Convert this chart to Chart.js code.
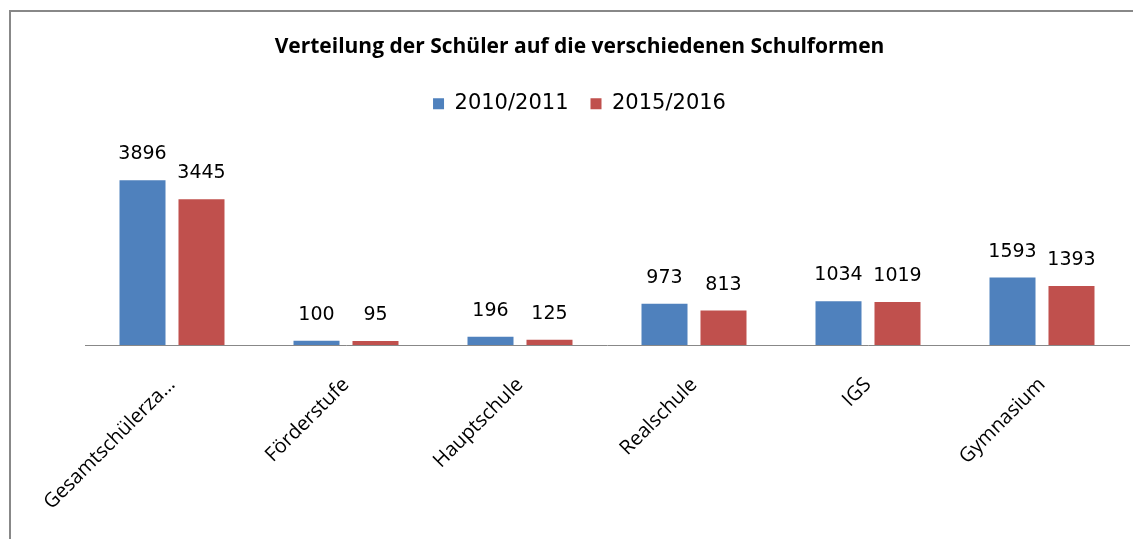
<!DOCTYPE html>
<html>
<head>
<meta charset="utf-8">
<script src="https://cdn.jsdelivr.net/npm/chart.js@4.4.1/dist/chart.umd.min.js"></script>
<style>
  html, body { margin: 0; padding: 0; background: #fff; }
  #wrap { position: relative; width: 1133px; height: 539px; }
  #frame { position: absolute; left: 9px; top: 10px; right: -10px; bottom: -10px;
           border-left: 2px solid #888; border-top: 2px solid #888; pointer-events: none; }
  canvas { position: absolute; left: 0; top: 0; }
</style>
</head>
<body>
<div id="wrap">
  <canvas id="c" width="1133" height="539"></canvas>
  <div id="frame"></div>
</div>
<script>
const categories = ["Gesamtschülerza…", "Förderstufe", "Hauptschule", "Realschule", "IGS", "Gymnasium"];
const seriesNames = ["2010/2011", "2015/2016"];
const values2010 = [3896, 100, 196, 973, 1034, 1593];
const values2015 = [3445, 95, 125, 813, 1019, 1393];
const chartTitle = "Verteilung der Schüler auf die verschiedenen Schulformen";

const valueLabels = {
  id: 'valueLabels',
  afterDatasetsDraw(chart) {
    const ctx = chart.ctx;
    ctx.save();
    ctx.font = '19px "DejaVu Sans"';
    ctx.fillStyle = '#000';
    ctx.textAlign = 'center';
    ctx.textBaseline = 'middle';
    chart.data.datasets.forEach((ds, di) => {
      const meta = chart.getDatasetMeta(di);
      meta.data.forEach((bar, i) => {
        ctx.fillText(String(ds.data[i]), bar.x, bar.y - 26);
      });
    });
    ctx.restore();
  }
};

new Chart(document.getElementById('c'), {
  type: 'bar',
  data: {
    labels: categories,
    datasets: [
      { label: seriesNames[0], data: values2010, backgroundColor: '#4F81BD',
        categoryPercentage: 0.678, barPercentage: 0.78 },
      { label: seriesNames[1], data: values2015, backgroundColor: '#C0504D',
        categoryPercentage: 0.678, barPercentage: 0.78 }
    ]
  },
  options: {
    responsive: false,
    animation: false,
    layout: { padding: { left: 30, right: 4, top: 0, bottom: 0 } },
    plugins: {
      title: {
        display: true, text: chartTitle, color: '#000',
        font: { family: '"Open Sans"', size: 21, weight: 'bold' },
        padding: { top: 34, bottom: 12 }
      },
      legend: {
        display: true, position: 'top',
        labels: {
          color: '#000', boxWidth: 11, boxHeight: 11, padding: 22,
          font: { family: '"DejaVu Sans"', size: 21 }
        }
      },
      tooltip: { enabled: false }
    },
    scales: {
      x: {
        grid: { display: false },
        border: { display: true, color: '#888', width: 1 },
        ticks: {
          color: '#000', minRotation: 45, maxRotation: 45, autoSkip: false,
          font: { family: '"Open Sans"', size: 20 }, padding: 20
        },
        afterFit(scale) { scale.height = 194; }
      },
      y: {
        display: true,
        min: 0, max: 5220,
        grid: { display: false },
        border: { display: false },
        ticks: { display: false },
        afterFit(scale) { scale.width = 55; }
      }
    }
  },
  plugins: [valueLabels]
});
</script>
</body>
</html>
